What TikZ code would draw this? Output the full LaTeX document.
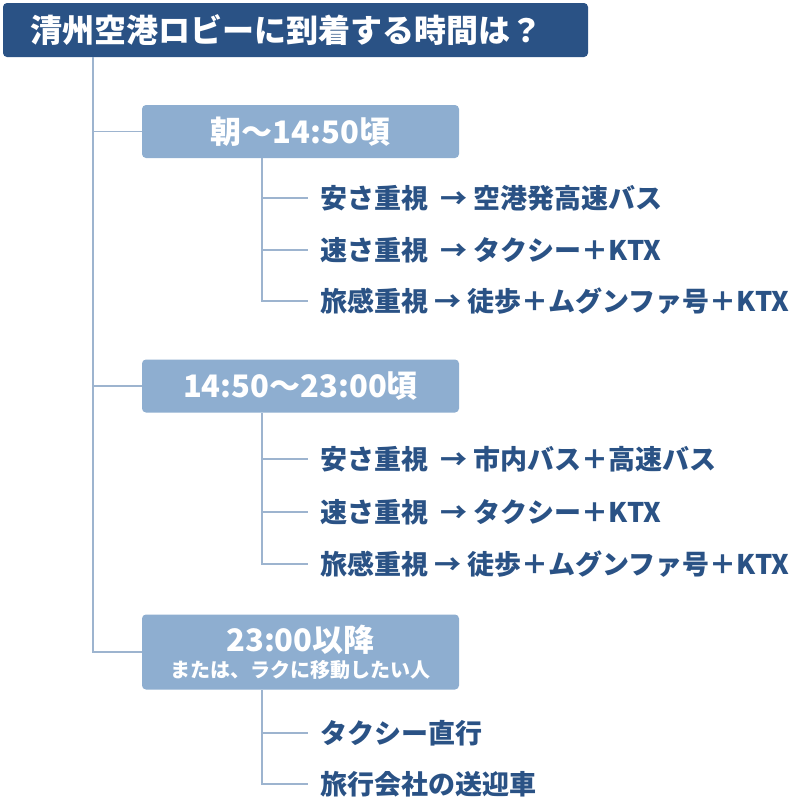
\documentclass[tikz,border=0pt]{standalone}
\usepackage{fontspec}
\setmainfont{Noto Sans CJK JP}
\usetikzlibrary{positioning}
\definecolor{navy}{HTML}{2A5285}
\definecolor{pale}{HTML}{8EAED0}
\definecolor{wire}{HTML}{9DB4CF}
\begin{document}
\begin{tikzpicture}[x=1pt,y=-1pt,thick,
  title box/.style={fill=navy,rounded corners=4pt,text=white,font=\bfseries\fontsize{32}{36}\selectfont,minimum width=585pt,minimum height=54pt,inner sep=0pt},
  time box/.style={fill=pale,rounded corners=4pt,text=white,font=\bfseries\fontsize{31}{34}\selectfont,minimum width=317pt,minimum height=53pt,inner sep=0pt,align=center},
  item/.style={anchor=west,text=navy,font=\bfseries\fontsize{27}{30}\selectfont,inner sep=0pt},
  wire/.style={draw=wire,line width=1.2pt}]
  \useasboundingbox (0,0) rectangle (810,811);

  \node[title box] at (295.5,30) (t) {};
  \node[anchor=west,text=white,font=\bfseries\fontsize{32}{36}\selectfont,inner sep=0pt] at (30,30) (tt) {清州空港ロビーに到着する時間は？};
  \node[time box] at (300.5,131.5) (b1) {朝～14:50頃};
  \node[time box] at (300.5,386) (b2) {14:50～23:00頃};
  \node[time box,minimum height=75pt] at (300.5,652) (b3) {23:00以降\\[-8pt]{\fontsize{20}{22}\selectfont または、ラクに移動したい人}};

  \node[item] at (320,198) (i1) {安さ重視\ \ → 空港発高速バス};
  \node[item] at (320,250) (i2) {速さ重視\ \ → タクシー＋KTX};
  \node[item] at (320,301) (i3) {旅感重視 → 徒歩＋ムグンファ号＋KTX};
  \node[item] at (320,459) (i4) {安さ重視\ \ → 市内バス＋高速バス};
  \node[item] at (320,512) (i5) {速さ重視\ \ → タクシー＋KTX};
  \node[item] at (320,564) (i6) {旅感重視 → 徒歩＋ムグンファ号＋KTX};
  \node[item] at (320,733) (i7) {タクシー直行};
  \node[item] at (320,784) (i8) {旅行会社の送迎車};

  \path[wire] (93,57) -- (93,652) -- (b3.west)
    (93,131.5) -- (b1.west) (93,386) -- (b2.west);
  \foreach \b/\last in {b1/i3,b2/i6,b3/i8}
    \path[wire] (262,0 |- \b.south) -- (262,0 |- \last) -- ([xshift=-12pt]\last.west);
  \foreach \i in {i1,i2,i4,i5,i7}
    \path[wire] (262,0 |- \i) -- ([xshift=-12pt]\i.west);
\end{tikzpicture}
\end{document}
